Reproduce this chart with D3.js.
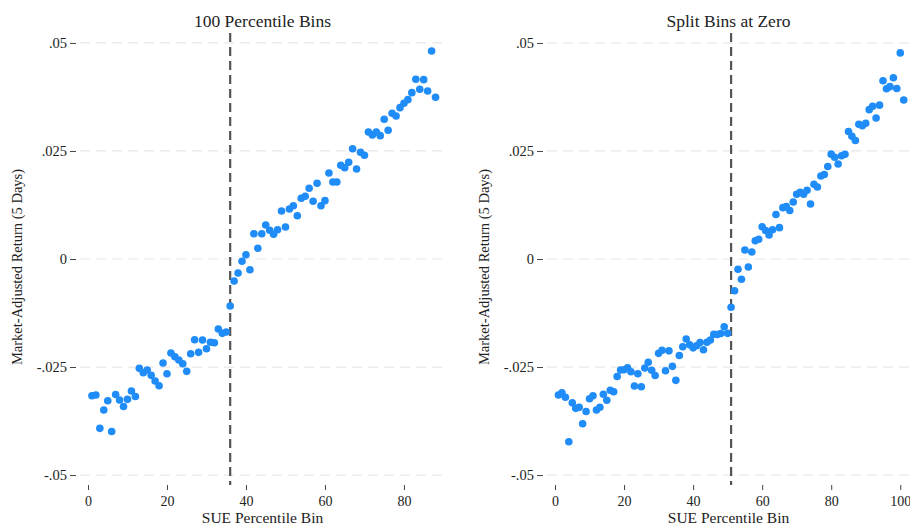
<!DOCTYPE html>
<html>
<head>
<meta charset="utf-8">
<script src="https://cdn.jsdelivr.net/npm/d3@7/dist/d3.min.js"></script>
<style>
  body { margin: 0; background: #fff; }
  svg text { font-family: "Liberation Serif", "DejaVu Serif", serif; fill: #222; }
</style>
</head>
<body>
<svg id="chart" width="910" height="526"></svg>
<script>
// market-adjusted 5 day return by SUE bin, 100 percentile bins
const percentileReturns = [
  -0.03164, -0.03148, -0.03919, -0.03495, -0.03280, -0.03993, -0.03137, -0.03264, -0.03414, -0.03248,
  -0.03056, -0.03183, -0.02530, -0.02632, -0.02569, -0.02692, -0.02824, -0.02933, -0.02407, -0.02655,
  -0.02176, -0.02262, -0.02338, -0.02424, -0.02600, -0.02192, -0.01868, -0.02160, -0.01875, -0.02076,
  -0.01928, -0.01938, -0.01620, -0.01720, -0.01690, -0.01088, -0.00509, -0.00324, -0.00053, 0.00100,
  -0.00248, 0.00586, 0.00248, 0.00586, 0.00787, 0.00664, 0.00572, 0.00678, 0.01111, 0.00741,
  0.01157, 0.01234, 0.01002, 0.01405, 0.01451, 0.01637, 0.01336, 0.01752, 0.01234, 0.01350,
  0.01991, 0.01782, 0.01782, 0.02171, 0.02113, 0.02238, 0.02553, 0.02083, 0.02470, 0.02400,
  0.02940, 0.02870, 0.02940, 0.02854, 0.03234, 0.02979, 0.03373, 0.03310, 0.03502, 0.03604,
  0.03688, 0.03850, 0.04160, 0.03928, 0.04150, 0.03889, 0.04815, 0.03743
]
// same, bins split at zero SUE
const splitReturns = [
  -0.03148, -0.03095, -0.03201, -0.04229, -0.03329, -0.03456, -0.03433, -0.03813, -0.03530, -0.03234,
  -0.03164, -0.03495, -0.03431, -0.03130, -0.03269, -0.03039, -0.03072, -0.02720, -0.02569, -0.02562,
  -0.02516, -0.02609, -0.02940, -0.02657, -0.02958, -0.02523, -0.02389, -0.02574, -0.02697, -0.02183,
  -0.02113, -0.02586, -0.02125, -0.02484, -0.02808, -0.02234, -0.02030, -0.01852, -0.01984, -0.02056,
  -0.02009, -0.01933, -0.02100, -0.01928, -0.01875, -0.01743, -0.01748, -0.01725, -0.01567, -0.01720,
  -0.01118, -0.00734, -0.00238, -0.00470, 0.00208, -0.00185, 0.00162, 0.00424, 0.00458, 0.00745,
  0.00660, 0.00556, 0.00678, 0.01030, 0.00725, 0.01188, 0.01211, 0.01123, 0.01319, 0.01498,
  0.01544, 0.01500, 0.01590, 0.01273, 0.01729, 0.01667, 0.01921, 0.01956, 0.02141, 0.02426,
  0.02354, 0.02199, 0.02389, 0.02424, 0.02951, 0.02840, 0.02743, 0.03118, 0.03083, 0.03141,
  0.03456, 0.03535, 0.03264, 0.03560, 0.04125, 0.03940, 0.03988, 0.04194, 0.03947, 0.04769,
  0.03681
]
const yTicks = [-0.05, -0.025, 0, 0.025, 0.05]
const yTickLabels = ["-.05", "-.025", "0", ".025", ".05"]
const percentileXTicks = [0, 20, 40, 60, 80]
const splitXTicks = [0, 20, 40, 60, 80, 100]
const percentileCutoff = 36
const splitCutoff = 51
const titles = ["100 Percentile Bins", "Split Bins at Zero"]
const xTitle = "SUE Percentile Bin"
const yTitle = "Market-Adjusted Return (5 Days)"

const svg = d3.select("#chart")

function drawPanel(p) {
  const g = svg.append("g")

  const x = d3.scaleLinear().domain(p.xDomain).range([p.left, p.right])
  const y = d3.scaleLinear().domain([-0.0523, 0.0523]).range([485, 33])

  //grid lines
  g.selectAll(".grid")
    .data(yTicks)
    .enter()
    .append("line")
    .attr("x1", p.left + 2)
    .attr("x2", p.right)
    .attr("y1", d => y(d))
    .attr("y2", d => y(d))
    .attr("stroke", "#e8e8e8")
    .attr("stroke-width", 1.2)
    .attr("stroke-dasharray", "10,6")

  //y axis, no domain line
  const yAxis = g.append("g")
    .attr("transform", `translate(${p.left - 2}, 0)`)
    .call(d3.axisLeft(y).tickValues(yTicks).tickSize(6).tickPadding(3)
      .tickFormat((d, i) => yTickLabels[i]))
  yAxis.select(".domain").remove()
  yAxis.selectAll("line").attr("stroke", "#444")
  yAxis.selectAll("text").attr("font-size", 14.5)
    .style("font-family", '"Liberation Serif", serif').attr("fill", "#222")

  //x axis
  const xAxis = g.append("g")
    .attr("transform", "translate(0, 485)")
    .call(d3.axisBottom(x).tickValues(p.xTicks).tickSize(5).tickPadding(6)
      .tickFormat(d3.format("d")))
  xAxis.select(".domain").remove()
  xAxis.selectAll("line").attr("stroke", "#444")
  xAxis.selectAll("text").attr("font-size", 14)
    .style("font-family", '"Liberation Serif", serif').attr("fill", "#222")

  //cutoff line
  g.append("line")
    .attr("x1", x(p.cutoff))
    .attr("x2", x(p.cutoff))
    .attr("y1", 33)
    .attr("y2", 485)
    .attr("stroke", "#555")
    .attr("stroke-width", 2.2)
    .attr("stroke-dasharray", "9,5")

  g.selectAll("circle")
    .data(p.values)
    .enter()
    .append("circle")
    .attr("cx", (d, i) => x(i + 1))
    .attr("cy", d => y(d))
    .attr("r", 3.8)
    .attr("fill", "#1f8cf7")

  //titles
  g.append("text")
    .attr("x", (p.left + p.right) / 2)
    .attr("y", 27)
    .attr("text-anchor", "middle")
    .attr("font-size", 17.5)
    .text(p.title)

  g.append("text")
    .attr("x", (p.left + p.right) / 2)
    .attr("y", 523)
    .attr("text-anchor", "middle")
    .attr("font-size", 15.5)
    .text(xTitle)

  g.append("text")
    .attr("transform", `translate(${p.yTitleX}, 267) rotate(-90)`)
    .attr("text-anchor", "middle")
    .attr("font-size", 14.5)
    .text(yTitle)
}

drawPanel({
  values: percentileReturns, xDomain: [-2.53, 90.9], left: 78, right: 447,
  xTicks: percentileXTicks, cutoff: percentileCutoff, title: titles[0], yTitleX: 22
})
drawPanel({
  values: splitReturns, xDomain: [-2.9, 103.4], left: 545, right: 912,
  xTicks: splitXTicks, cutoff: splitCutoff, title: titles[1], yTitleX: 489
})
</script>
</body>
</html>
